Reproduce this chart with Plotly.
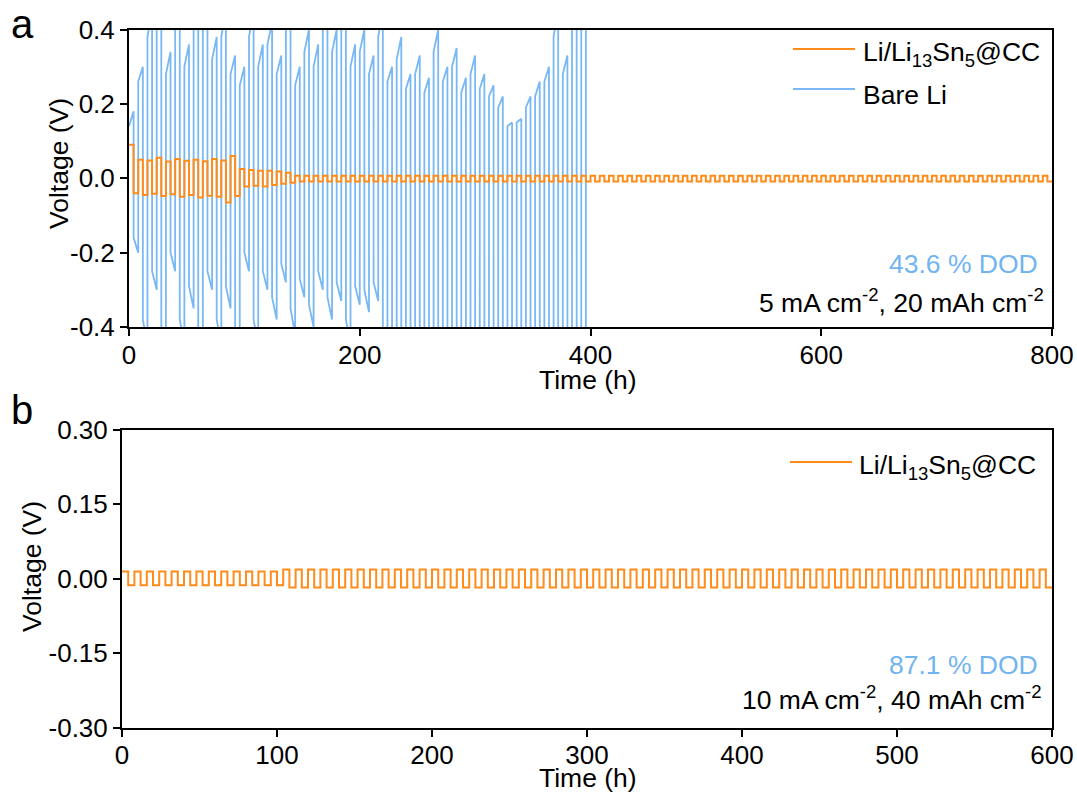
import numpy as np
import plotly.graph_objects as go

W, H = 1077, 796
FONT = "Liberation Sans, Arial, sans-serif"
ORANGE = "#FF8C1A"
BLUE = "#78B8F5"
DOD_BLUE = "#72B4F0"
TXT = 26.5

# ---------------- Panel a data (5 mA cm-2, 20 mAh cm-2 -> 4 h per half cycle) ----------------
a_half_h = 4.0
a_x_ticks = [0, 200, 400, 600, 800]
a_y_ticks = [-0.4, -0.2, 0.0, 0.2, 0.4]
a_y_ticktext = ["-0.4", "-0.2", "0.0", "0.2", "0.4"]

# Li/Li13Sn5@CC plateau voltage of each cycle (charge half / discharge half)
a_cc_pos_early = [0.090, 0.050, 0.048, 0.055, 0.045, 0.052, 0.047, 0.050, 0.046, 0.052, 0.048, 0.060,
                  0.025, 0.022, 0.020, 0.020, 0.018, 0.015]
a_cc_neg_early = [-0.040, -0.045, -0.042, -0.048, -0.043, -0.050, -0.045, -0.052, -0.047, -0.050, -0.065, -0.048,
                  -0.022, -0.020, -0.022, -0.018, -0.015, -0.012]
a_cc_pos_steady = 0.007
a_cc_neg_steady = -0.009
a_cc_cycles = 100

# Bare Li: start / end voltage of each positive and negative half cycle (values beyond +-0.4 are off-scale)
a_li_pos_start = [0.14, 0.26, 0.38, 0.42, 0.28, 0.40, 0.30, 0.40, 0.42, 0.32, 0.38, 0.28,
                  0.25, 0.38, 0.30, 0.36, 0.28, 0.40, 0.25, 0.34, 0.30, 0.42, 0.34, 0.40, 0.30,
                  0.34, 0.28, 0.38, 0.26, 0.32, 0.24, 0.28, 0.23, 0.34, 0.26, 0.30, 0.23, 0.28,
                  0.24, 0.22, 0.19, 0.14, 0.15, 0.19, 0.22, 0.26, 0.38, 0.28, 0.42, 0.42]
a_li_pos_end = [0.18, 0.30, 0.45, 0.50, 0.34, 0.48, 0.36, 0.46, 0.50, 0.38, 0.45, 0.33,
                0.30, 0.45, 0.36, 0.42, 0.33, 0.46, 0.30, 0.40, 0.36, 0.50, 0.40, 0.48, 0.36,
                0.40, 0.33, 0.45, 0.30, 0.38, 0.28, 0.33, 0.27, 0.40, 0.30, 0.35, 0.27, 0.33,
                0.28, 0.25, 0.22, 0.15, 0.16, 0.22, 0.26, 0.30, 0.45, 0.33, 0.50, 0.50]
a_li_neg_start = [-0.16, -0.38, -0.25, -0.42, -0.20, -0.38, -0.29, -0.42, -0.25, -0.38, -0.29, -0.42,
                  -0.20, -0.38, -0.25, -0.32, -0.23, -0.35, -0.27, -0.34, -0.25, -0.32, -0.28, -0.38, -0.29,
                  -0.30, -0.28, -0.42, -0.55, -0.55, -0.55, -0.55, -0.55, -0.55, -0.55, -0.55, -0.55, -0.55,
                  -0.55, -0.55, -0.55, -0.55, -0.55, -0.55, -0.55, -0.55, -0.55, -0.55, -0.55, -0.60]
a_li_neg_end = [-0.20, -0.45, -0.30, -0.50, -0.25, -0.45, -0.35, -0.50, -0.30, -0.45, -0.35, -0.50,
                -0.25, -0.45, -0.30, -0.38, -0.28, -0.42, -0.32, -0.40, -0.30, -0.38, -0.33, -0.45, -0.34,
                -0.36, -0.33, -0.50, -0.60, -0.60, -0.60, -0.60, -0.60, -0.60, -0.60, -0.60, -0.60, -0.60,
                -0.60, -0.60, -0.60, -0.60, -0.60, -0.60, -0.60, -0.60, -0.60, -0.60, -0.60, -0.60]

# ---------------- Panel b data (10 mA cm-2, 40 mAh cm-2 -> 4 h per half cycle) ----------------
b_half_h = 4.0
b_x_ticks = [0, 100, 200, 300, 400, 500, 600]
b_y_ticks = [-0.30, -0.15, 0.0, 0.15, 0.30]
b_y_ticktext = ["-0.30", "-0.15", "0.00", "0.15", "0.30"]
b_cc_cycles = 75
b_cc_pos_first, b_cc_neg_first, b_first_cycles = 0.014, -0.0135, 13
b_cc_pos_rest, b_cc_neg_rest = 0.018, -0.018


def square_wave(starts, ends, half_h):
    xs, ys = [], []
    for i, (s, e) in enumerate(zip(starts, ends)):
        xs += [i * half_h, (i + 1) * half_h]
        ys += [s, e]
    return np.array(xs), np.array(ys)


def interleave(pos, neg):
    out = []
    for p, n in zip(pos, neg):
        out += [p, n]
    return out


n_early = len(a_cc_pos_early)
a_cc_pos = a_cc_pos_early + [a_cc_pos_steady] * (a_cc_cycles - n_early)
a_cc_neg = a_cc_neg_early + [a_cc_neg_steady] * (a_cc_cycles - n_early)
a_cc_half = interleave(a_cc_pos, a_cc_neg)
a_cc_x, a_cc_y = square_wave(a_cc_half, a_cc_half, a_half_h)

a_li_x, a_li_y = square_wave(interleave(a_li_pos_start, a_li_neg_start),
                             interleave(a_li_pos_end, a_li_neg_end), a_half_h)

b_pos = [b_cc_pos_first] * b_first_cycles + [b_cc_pos_rest] * (b_cc_cycles - b_first_cycles)
b_neg = [b_cc_neg_first] * b_first_cycles + [b_cc_neg_rest] * (b_cc_cycles - b_first_cycles)
b_half = interleave(b_pos, b_neg)
b_cc_x, b_cc_y = square_wave(b_half, b_half, b_half_h)

fig = go.Figure()
fig.add_trace(go.Scatter(x=a_li_x, y=a_li_y, mode="lines", line=dict(color=BLUE, width=1.8),
                         xaxis="x", yaxis="y", showlegend=False, name="Bare Li"))
fig.add_trace(go.Scatter(x=a_cc_x, y=a_cc_y, mode="lines", line=dict(color=ORANGE, width=2),
                         xaxis="x", yaxis="y", showlegend=False, name="Li/Li13Sn5@CC"))
fig.add_trace(go.Scatter(x=b_cc_x, y=b_cc_y, mode="lines", line=dict(color=ORANGE, width=2),
                         xaxis="x2", yaxis="y2", showlegend=False, name="Li/Li13Sn5@CC"))


def px(x):
    return x / W


def py(y):
    return 1 - y / H


axis_common = dict(showline=True, linecolor="black", linewidth=2, mirror=True, ticks="outside",
                   ticklen=7, tickwidth=2, tickcolor="black", showgrid=False, zeroline=False,
                   tickfont=dict(family=FONT, size=26, color="black"), automargin=False)

fig.update_layout(
    width=W, height=H, margin=dict(l=0, r=0, t=0, b=0),
    paper_bgcolor="white", plot_bgcolor="white",
    xaxis=dict(domain=[px(129), px(1052)], range=[0, 800], tickvals=a_x_ticks, anchor="y",
               ticklabelstandoff=-3, **axis_common),
    yaxis=dict(domain=[py(327), py(29.5)], range=[-0.4, 0.4], tickvals=a_y_ticks, ticktext=a_y_ticktext,
               anchor="x", **axis_common),
    xaxis2=dict(domain=[px(122), px(1052)], range=[0, 600], tickvals=b_x_ticks, anchor="y2",
                ticklabelstandoff=-4, **axis_common),
    yaxis2=dict(domain=[py(727.5), py(429.5)], range=[-0.30, 0.30], tickvals=b_y_ticks, ticktext=b_y_ticktext,
                anchor="x2", **axis_common),
)

ann = []


def text(x, y, s, size=TXT, color="black", xanchor="center", angle=0):
    ann.append(dict(x=px(x), y=py(y), xref="paper", yref="paper", text=s, showarrow=False,
                    xanchor=xanchor, yanchor="middle", textangle=angle,
                    font=dict(family=FONT, size=size, color=color)))


text(22, 24, "a", size=40)
text(22, 410, "b", size=40)
text(59, 164, "Voltage (V)", angle=-90)
text(32, 567, "Voltage (V)", angle=-90)
text(588, 380, "Time (h)")
text(588, 778, "Time (h)")

# legends (manual)
LEG = "Li/Li<sub>13</sub>Sn<sub>5</sub>@CC"
text(861, 54, LEG, xanchor="left")
text(861, 95, "Bare Li", xanchor="left")
text(857, 467, LEG, xanchor="left")
shapes = [
    dict(type="line", xref="paper", yref="paper", x0=px(793), x1=px(855), y0=py(49), y1=py(49),
         line=dict(color=ORANGE, width=2)),
    dict(type="line", xref="paper", yref="paper", x0=px(793), x1=px(855), y0=py(89), y1=py(89),
         line=dict(color=BLUE, width=2)),
    dict(type="line", xref="paper", yref="paper", x0=px(790), x1=px(852), y0=py(462), y1=py(462),
         line=dict(color=ORANGE, width=2)),
]

text(1040, 264, "43.6 % DOD", color=DOD_BLUE, xanchor="right")
text(1046, 301, "5 mA cm<sup>-2</sup>, 20 mAh cm<sup>-2</sup>", xanchor="right")
text(1040, 665, "87.1 % DOD", color=DOD_BLUE, xanchor="right")
text(1044, 698, "10 mA cm<sup>-2</sup>, 40 mAh cm<sup>-2</sup>", xanchor="right")

fig.update_layout(annotations=ann, shapes=shapes)
fig.write_html("out.html", config={"displayModeBar": False})
